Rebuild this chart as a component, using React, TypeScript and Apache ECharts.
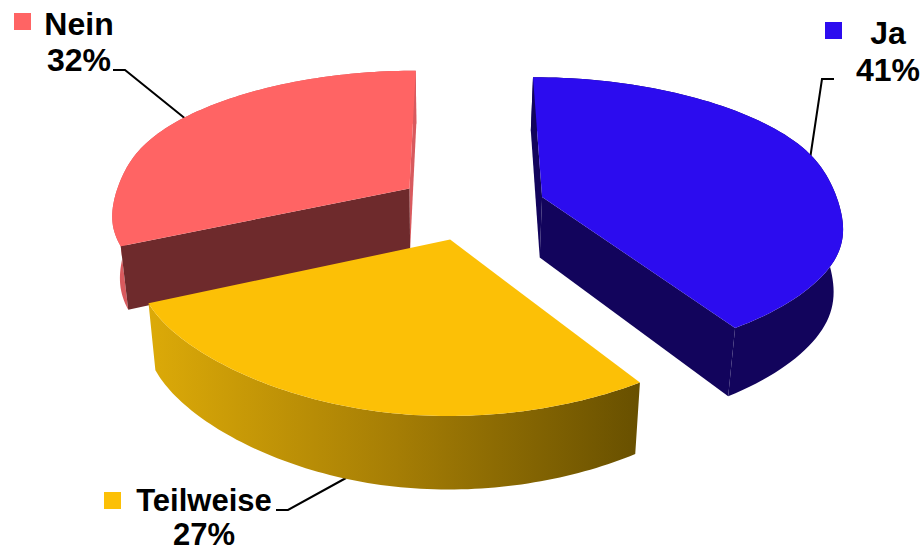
import React, { useEffect, useRef } from "react";
import * as echarts from "echarts";

const categories = ["Ja", "Teilweise", "Nein"];
const values = [41, 27, 32];

const topColors = ["#2c0cef", "#fcc006", "#ff6464"];
const wallColors: any[] = [
  "#12045c",
  {
    type: "linear", x: 0, y: 0, x2: 1, y2: 0,
    colorStops: [
      { offset: 0, color: "#dcaa08" },
      { offset: 0.5, color: "#a67e05" },
      { offset: 1, color: "#685000" },
    ],
  },
  "#d85a5e",
];
const startCutColors = ["#12045c", "#685000", "#6e2a2c"];
const endCutColors = ["#12045c", "#dcaa08", "#d85a5e"];
const paintOrder = [0, 2, 1];

// perspective of the pie plane
const VANISH_X = 464;
const HORIZON_Y = -830;
const X_SCALE = 3.39;
const DEPTH_SCALE = 7780;
const CENTER_U = 0.024;
const CENTER_S = 9.65e-4;
const EXPLODE = 0.2435;
const WALL_Y = 1.059;
const WALL_X = 0.9765;
const WALL_X_ORIGIN = 440;
const SIDE_PINCH = 0.028;
const FRONT_BULGE = 0.03;
const LEFT_FLATTEN = 0.05;

const font = "bold 32px 'Liberation Sans', Arial, sans-serif";
const smallFont = "bold 31px 'Liberation Sans', Arial, sans-serif";

function renderSlice(params: any, api: any) {
  const total = values.reduce((a, b) => a + b, 0);
  const i = params.dataIndex;
  const start = (api.value(1) / total) * Math.PI * 2;
  const end = ((api.value(1) + api.value(0)) / total) * Math.PI * 2;
  const mid = (start + end) / 2;
  const offU = CENTER_U + Math.sin(mid) * EXPLODE;
  const offV = -Math.cos(mid) * EXPLODE;

  const top = (u: number, v: number) => {
    const s = CENTER_S - (offV + v) / DEPTH_SCALE;
    return [VANISH_X + (offU + u) / (X_SCALE * s), HORIZON_Y + 1 / s];
  };
  const low = (p: number[]) => [
    WALL_X_ORIGIN + (p[0] - WALL_X_ORIGIN) * WALL_X,
    HORIZON_Y + (p[1] - HORIZON_Y) * WALL_Y,
  ];
  const rim = (t: number) => {
    const su = Math.sin(t);
    const cv = -Math.cos(t);
    const f = 1 - SIDE_PINCH * su ** 16;
    let g = 1 + FRONT_BULGE * Math.max(0, cv) ** 4;
    if (su < 0 && cv > 0) g -= LEFT_FLATTEN * su * su;
    return top(su * f, cv * g);
  };

  const arc: number[][] = [];
  const steps = 90;
  for (let k = 0; k <= steps; k++) {
    arc.push(rim(start + ((end - start) * k) / steps));
  }
  const apex = top(0, 0);
  const first = arc[0];
  const last = arc[arc.length - 1];
  const under = low(apex);
  const side = (p: number[]) =>
    (p[0] - apex[0]) * (under[1] - apex[1]) - (p[1] - apex[1]) * (under[0] - apex[0]);
  const z = paintOrder[i] * 10;
  const poly = (points: number[][], fill: any, z2: number) => ({
    type: "polygon",
    z2: z + z2,
    shape: { points },
    style: { fill, stroke: null },
  });
  const children: any[] = [
    poly([...arc, ...arc.map(low).reverse()], wallColors[i], 1),
  ];
  if (side(last) > 0) children.push(poly([apex, last, low(last), under], endCutColors[i], 2));
  if (side(first) < 0) children.push(poly([apex, first, low(first), under], startCutColors[i], 3));
  children.push(poly([apex, ...arc], topColors[i], 4));
  return { type: "group", children };
}

export default function App() {
  const ref = useRef<HTMLDivElement>(null);
  useEffect(() => {
    document.body.style.margin = "0";
    const chart = echarts.init(ref.current!, null, { renderer: "svg" });
    let acc = 0;
    const rows = values.map((v) => {
      const row = [v, acc];
      acc += v;
      return row;
    });
    const label = (text: string, x: number, y: number, f: string = font) => ({
      type: "text",
      x,
      y,
      style: { text, font: f, fill: "#000", align: "center", verticalAlign: "middle" },
    });
    const square = (x: number, y: number, fill: string) => ({
      type: "rect",
      shape: { x, y, width: 17, height: 17 },
      style: { fill },
    });
    const leader = (points: number[][]) => ({
      type: "polyline",
      shape: { points },
      style: { stroke: "#000", lineWidth: 2, fill: null },
    });
    chart.setOption({
      animation: false,
      backgroundColor: "#fff",
      series: [
        {
          type: "custom",
          coordinateSystem: "none",
          renderItem: renderSlice,
          data: rows,
          silent: true,
        },
      ],
      graphic: [
        square(825, 22, topColors[0]),
        label(categories[0], 888, 33),
        label(`${values[0]}%`, 888, 70),
        leader([[834, 79], [822, 79], [810, 159]]),
        square(104, 492, topColors[1]),
        label(categories[1], 204, 500, smallFont),
        label(`${values[1]}%`, 204, 534.5, smallFont),
        leader([[276, 510], [288, 510], [346, 478]]),
        square(14, 13, topColors[2]),
        label(categories[2], 79, 24),
        label(`${values[2]}%`, 79, 60),
        leader([[113, 70], [125, 70], [187, 120]]),
      ],
    });
    return () => chart.dispose();
  }, []);
  return (
    <div
      ref={ref}
      style={{ position: "absolute", left: 0, top: 0, width: 922, height: 552 }}
    />
  );
}
